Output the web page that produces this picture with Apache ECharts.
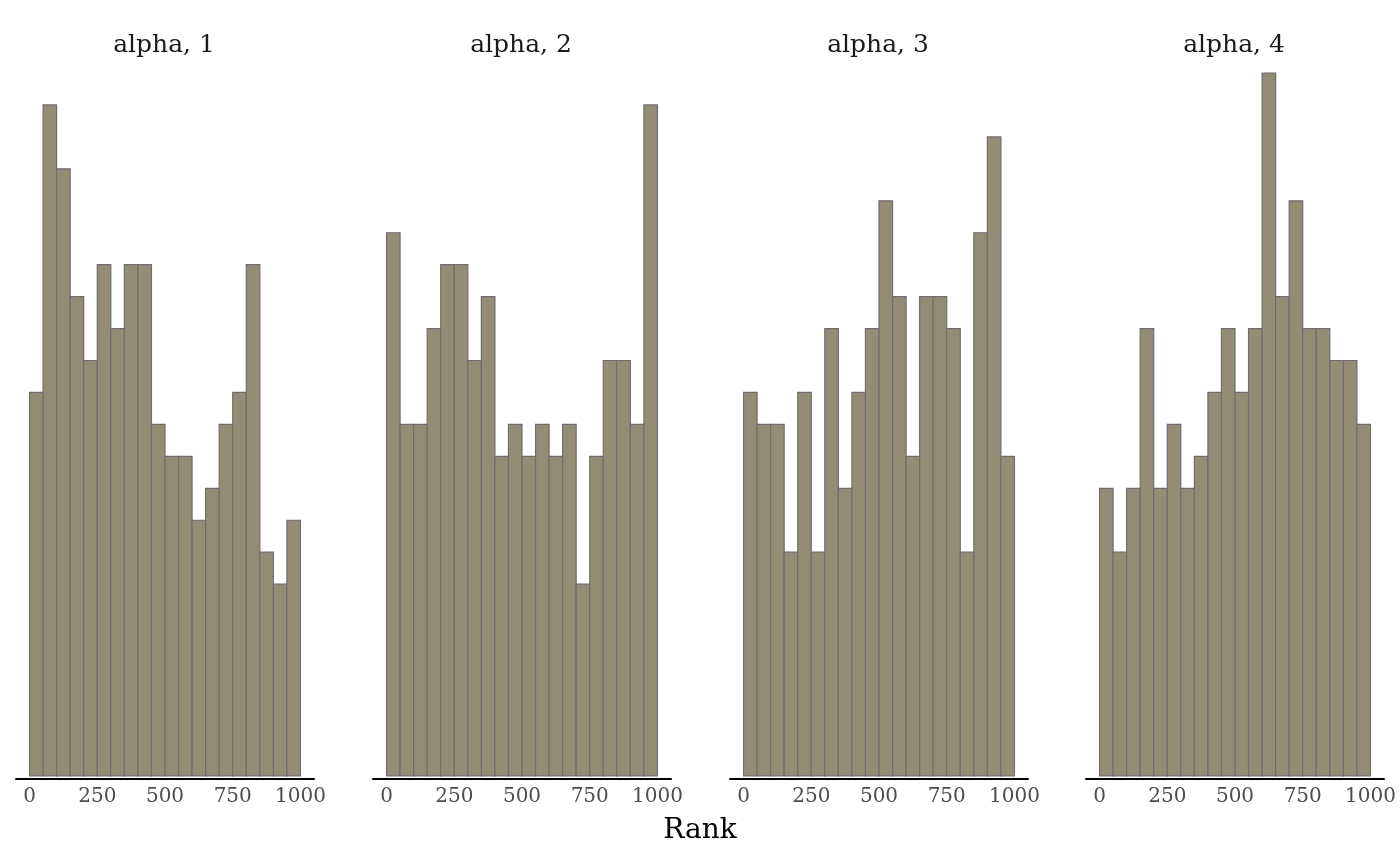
<!DOCTYPE html>
<html>
<head>
<meta charset="utf-8">
<script src="https://cdn.jsdelivr.net/npm/echarts@6/dist/echarts.min.js"></script>
<style>html,body{margin:0;padding:0;background:#fff}#c{width:1400px;height:866px}</style>
</head>
<body>
<div id="c"></div>
<script>
const panelTitles = ['alpha, 1', 'alpha, 2', 'alpha, 3', 'alpha, 4'];
const binEdges = [0, 50, 100, 150, 200, 250, 300, 350, 400, 450, 500, 550, 600, 650, 700, 750, 800, 850, 900, 950, 1000];
const counts1 = [12, 21, 19, 15, 13, 16, 14, 16, 16, 11, 10, 10, 8, 9, 11, 12, 16, 7, 6, 8];
const counts2 = [17, 11, 11, 14, 16, 16, 13, 15, 10, 11, 10, 11, 10, 11, 6, 10, 13, 13, 11, 21];
const counts3 = [12, 11, 11, 7, 12, 7, 14, 9, 12, 14, 18, 15, 10, 15, 15, 14, 7, 17, 20, 10];
const counts4 = [9, 7, 9, 14, 9, 11, 9, 10, 12, 14, 12, 14, 22, 15, 18, 14, 14, 13, 13, 11];
const tickLabels = [0, 250, 500, 750, 1000];
const xTitle = 'Rank';

const allCounts = [counts1, counts2, counts3, counts4];
const gridLefts = [16, 373, 730, 1086];
const gridWidth = 298;
const FONT = 'DejaVu Serif';

const grids = [], xAxes = [], yAxes = [], series = [], titles = [];
allCounts.forEach((counts, i) => {
  grids.push({left: gridLefts[i], width: gridWidth, top: 73, bottom: 87});
  xAxes.push({
    type: 'value', gridIndex: i, min: -50, max: 1050,
    splitLine: {show: false},
    axisTick: {show: false},
    axisLine: {show: true, onZero: false, lineStyle: {color: '#000', width: 2}},
    axisLabel: {customValues: tickLabels, formatter: v => String(v), color: '#4d4d4d', fontFamily: FONT, fontSize: 20, margin: 8}
  });
  yAxes.push({type: 'value', gridIndex: i, min: -0.1, max: 22, show: false, splitLine: {show: false}});
  series.push({
    type: 'custom', xAxisIndex: i, yAxisIndex: i,
    data: counts.map((c, k) => [binEdges[k], binEdges[k + 1], c]),
    renderItem: function (params, api) {
      const p0 = api.coord([api.value(0), api.value(2)]);
      const p1 = api.coord([api.value(1), 0]);
      return {
        type: 'rect',
        shape: {x: p0[0], y: p0[1], width: p1[0] - p0[0], height: p1[1] - p0[1]},
        style: {fill: '#948d75', stroke: '#6e6e70', lineWidth: 1.2}
      };
    }
  });
  titles.push({
    text: panelTitles[i], left: gridLefts[i] + gridWidth / 2 - 1, top: 33, textAlign: 'center', padding: 0,
    textStyle: {fontFamily: FONT, fontSize: 25, fontWeight: 'normal', color: '#1a1a1a'}
  });
});
titles.push({
  text: xTitle, left: 700, top: 817, textAlign: 'center', padding: 0,
  textStyle: {fontFamily: FONT, fontSize: 28, fontWeight: 'normal', color: '#000'}
});

const chart = echarts.init(document.getElementById('c'));
chart.setOption({
  animation: false,
  backgroundColor: '#fff',
  title: titles,
  grid: grids,
  xAxis: xAxes,
  yAxis: yAxes,
  series: series
});
</script>
</body>
</html>
